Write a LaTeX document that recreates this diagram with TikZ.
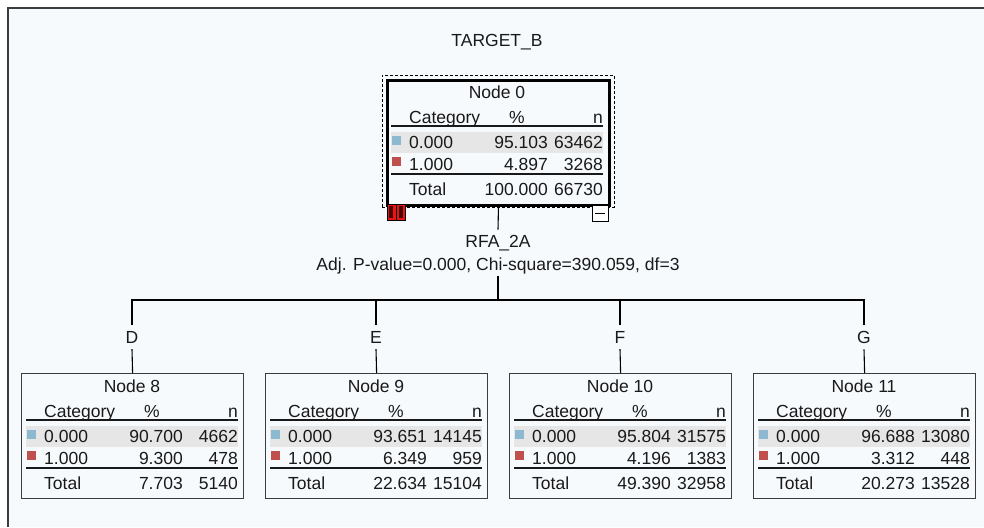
\documentclass[tikz,border=0pt]{standalone}
\usepackage{fontspec}
\setmainfont{Liberation Sans}
\usepackage{tikz}
\definecolor{PanelBack}{RGB}{246,250,253}
\definecolor{BoxGray}{RGB}{60,60,60}
\definecolor{RowGray}{RGB}{230,230,230}
\definecolor{CatBlue}{RGB}{140,184,208}
\definecolor{CatRed}{RGB}{192,80,77}
\definecolor{InkGray}{RGB}{25,25,25}
\definecolor{IconRed}{RGB}{235,20,20}

\tikzset{
  txt/.style={inner sep=0pt, text=InkGray, font=\fontsize{17.5}{20}\selectfont},
  statbox/.style={draw=BoxGray, line width=1.2pt, minimum width=222pt,
    minimum height=125pt, inner sep=0pt, anchor=north west},
  rootbox/.style={statbox, draw=black, line width=2.6pt},
  selbox/.style={draw=black, line width=0.9pt, dash pattern=on 3pt off 2pt,
    minimum width=232pt, minimum height=132pt, inner sep=0pt, anchor=north west},
  splitlbl/.style={txt, inner ysep=2pt, anchor=base},
  branchlbl/.style={txt, inner ysep=6pt, anchor=base},
  tablerule/.style={InkGray, line width=1.2pt},
  link/.style={black, line width=1.1pt}
}

% table inside a node box: name, title, %0, n0, %1, n1, %total, ntotal
\newcommand{\stattable}[8]{%
  \begin{scope}[shift={(#1.north west)}]
    \node[txt, anchor=base] (#1-tit) at (111,19) {#2};
    \node[txt, anchor=base west] (#1-cat) at (23,44) {Category};
    \node[txt, anchor=base] (#1-pct) at (131,44) {\%};
    \node[txt, anchor=base east] (#1-n) at (217,44) {n};
    \draw[tablerule] (5,47) -- (217,47);
    \fill[RowGray] (5,53) rectangle (217,74);
    \fill[CatBlue] (6,57) rectangle (15,66);
    \node[txt, anchor=base west] (#1-c0) at (23,69) {0.000};
    \node[txt, anchor=base east] (#1-p0) at (162,69) {#3};
    \node[txt, anchor=base east] (#1-n0) at (217,69) {#4};
    \fill[CatRed] (6,78) rectangle (15,87);
    \node[txt, anchor=base west] (#1-c1) at (23,91) {1.000};
    \node[txt, anchor=base east] (#1-p1) at (162,91) {#5};
    \node[txt, anchor=base east] (#1-n1) at (217,91) {#6};
    \draw[tablerule] (5,95) -- (217,95);
    \node[txt, anchor=base west] (#1-tot) at (23,116) {Total};
    \node[txt, anchor=base east] (#1-pt) at (162,116) {#7};
    \node[txt, anchor=base east] (#1-nt) at (217,116) {#8};
  \end{scope}}

\begin{document}
\begin{tikzpicture}[x=1pt, y=-1pt]
    \useasboundingbox (0,0) rectangle (984,527);
    \fill[white] (0,0) rectangle (984,527);
    \fill[PanelBack] (8,8) rectangle (984,527);
    \draw[BoxGray, line width=1.5pt] (8,527) -- (8,8) -- (984,8);

    \node[txt, anchor=base] (title) at (497,47) {TARGET\_B};

    % root node
    \node[rootbox] (n0) at (386,79) {};
    \node[selbox] (sel0) at (382,75) {};
    \stattable{n0}{Node 0}{95.103}{63462}{4.897}{3268}{100.000}{66730}

    % icons under the root
    \fill[IconRed] (387,204) rectangle (405,220);
    \fill[black!70!IconRed] (389,206) rectangle (393,218);
    \fill[black!70!IconRed] (399,206) rectangle (403,218);
    \draw[black, line width=1pt] (387,204) rectangle (405,220);
    \draw[black, line width=1pt] (396,204) -- (396,220);
    \fill[white] (592,205) rectangle (608,221);
    \draw[black, line width=1pt] (592,205) rectangle (608,221);
    \draw[black, line width=1pt] (595,213) -- (605,213);

    % split
    \node[splitlbl] (rfa) at (498,247) {RFA\_2A};
    \node[splitlbl] (adj) at (498,270) {Adj. P-value=0.000, Chi-square=390.059, df=3};
    \coordinate (hub) at (498,300);
    \draw[link] (sel0.south) -- ([yshift=3pt]rfa.north);
    \draw[link] (adj.south) -- (hub);

    % children
    \node[statbox] (n8) at (21,373) {};
    \node[statbox] (n9) at (265,373) {};
    \node[statbox] (n10) at (509,373) {};
    \node[statbox] (n11) at (753,373) {};
    \stattable{n8}{Node 8}{90.700}{4662}{9.300}{478}{7.703}{5140}
    \stattable{n9}{Node 9}{93.651}{14145}{6.349}{959}{22.634}{15104}
    \stattable{n10}{Node 10}{95.804}{31575}{4.196}{1383}{49.390}{32958}
    \stattable{n11}{Node 11}{96.688}{13080}{3.312}{448}{20.273}{13528}

    \node[branchlbl] (bD) at (132,343) {D};
    \node[branchlbl] (bE) at (376,343) {E};
    \node[branchlbl] (bF) at (620,343) {F};
    \node[branchlbl] (bG) at (864,343) {G};

    \draw[link] (bD.north) |- (hub) -| (bG.north);
    \draw[link] (bE.north) -- (bE.north |- hub);
    \draw[link] (bF.north) -- (bF.north |- hub);
    \foreach \b/\n in {D/8,E/9,F/10,G/11}
        \draw[link] (b\b.south) -- (n\n.north);
\end{tikzpicture}
\end{document}
